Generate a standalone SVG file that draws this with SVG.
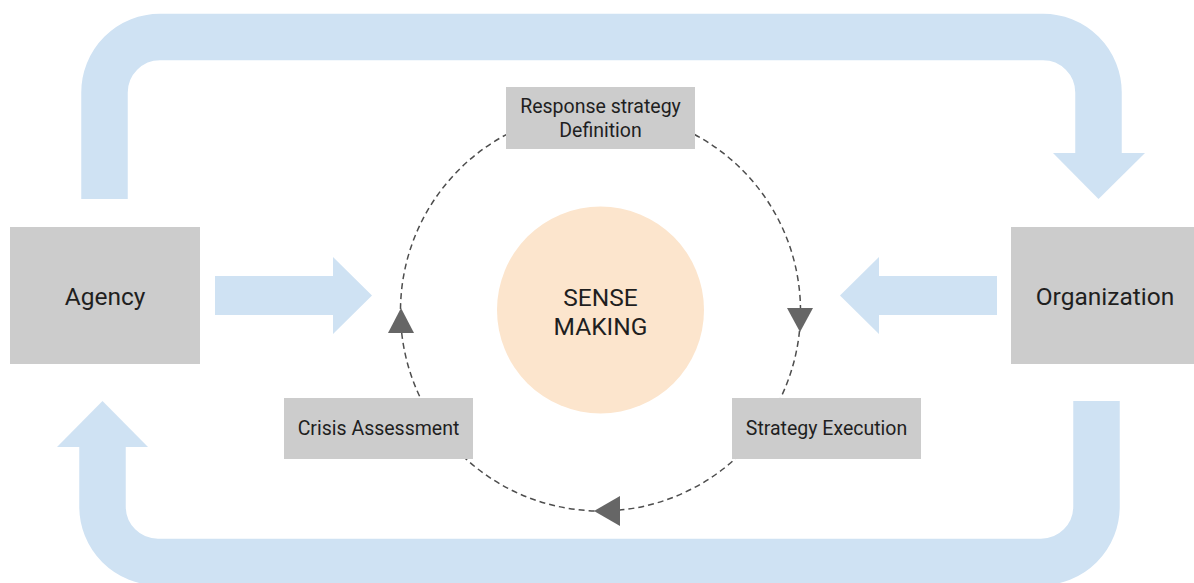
<svg xmlns="http://www.w3.org/2000/svg" width="1194" height="583" viewBox="0 0 1194 583">
  <style>
    .band { fill: none; stroke: #cfe2f3; stroke-width: 46.5; }
    .flow { fill: #cfe2f3; }
    .cycle { fill: none; stroke: #4d4d4d; stroke-width: 1.5; stroke-dasharray: 6 4; }
    .tip { fill: #666666; }
    .box { fill: #cccccc; }
    .core { fill: #fce5cd; }
    .label { font-family: Roboto, "Liberation Sans", sans-serif; fill: #1f1f1f; text-anchor: middle; }
    .big { font-size: 24.5px; }
    .small { font-size: 19.5px; }
  </style>

  <!-- connectors: outer feedback bands, inward arrows, dashed cycle -->
  <g id="connectors">
    <!-- Agency -> Organization (over the top) -->
    <path class="band" d="M104.5,199 V92.5 A55.5,55.5 0 0 1 160,37 H1043 A55.5,55.5 0 0 1 1098.5,92.5 V154"/>
    <polygon class="flow" points="1053,153 1145,153 1098.5,199"/>

    <!-- Organization -> Agency (under the bottom) -->
    <path class="band" d="M1096.5,401 V506.5 A55.5,55.5 0 0 1 1041,562 H158 A55.5,55.5 0 0 1 102.5,506.5 V446"/>
    <polygon class="flow" points="57,447 148,447 102.5,401"/>

    <!-- Agency -> cycle -->
    <polygon class="flow" points="215,276 333,276 333,257 372,295.5 333,334 333,315 215,315"/>
    <!-- Organization -> cycle -->
    <polygon class="flow" points="997,276 879,276 879,257 840,295.5 879,334 879,315 997,315"/>

    <!-- sense-making cycle -->
    <circle class="cycle" cx="600.5" cy="311" r="200"/>
    <polygon class="tip" points="401,308 388,333 414,333"/>
    <polygon class="tip" points="800,332 787,308 813,308"/>
    <polygon class="tip" points="594,511 620,496 620,526"/>
  </g>

  <g id="agency">
    <rect class="box" x="10" y="227" width="190" height="137"/>
    <text class="label big" x="105" y="305">Agency</text>
  </g>

  <g id="organization">
    <rect class="box" x="1011" y="227" width="190" height="137"/>
    <text class="label big" x="1105" y="305">Organization</text>
  </g>

  <g id="response-strategy">
    <rect class="box" x="506" y="87" width="189" height="62"/>
    <text class="label small" x="600.5" y="113">Response strategy</text>
    <text class="label small" x="600.5" y="137">Definition</text>
  </g>

  <g id="crisis-assessment">
    <rect class="box" x="284" y="398" width="189" height="61"/>
    <text class="label small" x="378.5" y="435">Crisis Assessment</text>
  </g>

  <g id="strategy-execution">
    <rect class="box" x="732" y="398" width="189" height="61"/>
    <text class="label small" x="826.5" y="435">Strategy Execution</text>
  </g>

  <g id="sense-making">
    <circle class="core" cx="600.5" cy="310" r="103.5"/>
    <text class="label big" x="600.5" y="306">SENSE</text>
    <text class="label big" x="600.5" y="335">MAKING</text>
  </g>
</svg>
